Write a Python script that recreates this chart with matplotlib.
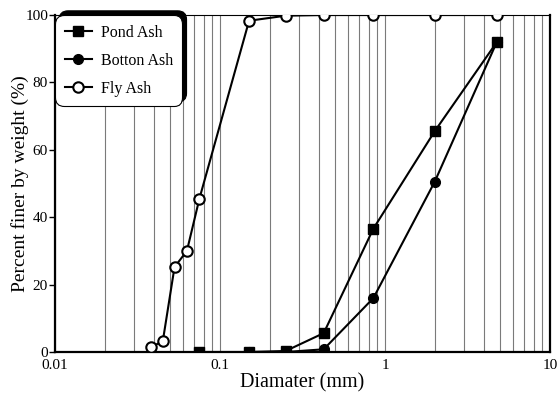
import numpy as np
import matplotlib
matplotlib.use('Agg')
import matplotlib.pyplot as plt
from matplotlib.ticker import LogLocator, FixedLocator, NullFormatter

plt.rcParams['font.family'] = ['Liberation Serif', 'DejaVu Serif']

# sieve / hydrometer sizes (mm) and percent finer
pond_d = [0.075, 0.15, 0.25, 0.425, 0.85, 2.0, 4.75]
pond_p = [0.0, 0.0, 0.3, 5.6, 36.6, 65.5, 91.9]

bottom_d = [0.15, 0.25, 0.425, 0.85, 2.0, 4.75]
bottom_p = [0.0, 0.0, 0.8, 16.0, 50.5, 91.9]

fly_d = [0.038, 0.045, 0.053, 0.063, 0.075, 0.15, 0.25, 0.425, 0.85, 2.0, 4.75]
fly_p = [1.4, 3.2, 25.2, 30.0, 45.5, 98.3, 99.8, 100.0, 100.0, 100.0, 100.0]

x_ticks = [0.01, 0.1, 1, 10]
x_labels = ['0.01', '0.1', '1', '10']
y_ticks = [0, 20, 40, 60, 80, 100]

fig = plt.figure(figsize=(5.58, 3.94), dpi=100)
ax = fig.add_axes([0.0986, 0.1066, 0.8871, 0.8553])

ax.plot(pond_d, pond_p, '-s', color='black', lw=1.5, ms=6.5,
        mfc='black', label='Pond Ash', zorder=3)
ax.plot(bottom_d, bottom_p, '-o', color='black', lw=1.5, ms=7,
        mfc='black', label='Botton Ash', zorder=3)
ax.plot(fly_d, fly_p, '-o', color='black', lw=1.5, ms=7.5,
        mfc='white', mew=1.5, label='Fly Ash', zorder=4)

ax.set_xscale('log')
ax.set_xlim(0.01, 10)
ax.set_ylim(0, 100)
ax.xaxis.set_major_locator(FixedLocator(x_ticks))
ax.set_xticklabels(x_labels)
ax.xaxis.set_minor_locator(LogLocator(base=10, subs=np.arange(2, 10)))
ax.xaxis.set_minor_formatter(NullFormatter())
ax.set_yticks(y_ticks)

ax.grid(True, axis='x', which='both', color='#7a7a7a', lw=0.8)
ax.set_axisbelow(True)

ax.tick_params(axis='x', which='both', length=0, labelsize=11, pad=5)
ax.tick_params(axis='y', direction='out', length=4, width=1, labelsize=11, pad=1)

for s in ['left', 'bottom', 'right']:
    ax.spines[s].set_linewidth(1.6)
ax.spines['top'].set_linewidth(0.8)

ax.set_xlabel('Diamater (mm)', fontsize=14.5, labelpad=1)
ax.set_ylabel('Percent finer by weight (%)', fontsize=14, labelpad=-2.5)

leg = ax.legend(loc='upper left', borderaxespad=0, fontsize=11.5,
                fancybox=True, framealpha=1, edgecolor='black',
                handlelength=1.7, labelspacing=0.75, borderpad=0.6,
                handletextpad=0.55,
                shadow={'ox': 3, 'oy': 3, 'color': 'black', 'alpha': 1})
leg.get_frame().set_linewidth(0.8)
leg.get_frame().set_boxstyle('round', pad=0, rounding_size=0.55)
leg.set_zorder(5)

fig.savefig('out.png', dpi=100)
